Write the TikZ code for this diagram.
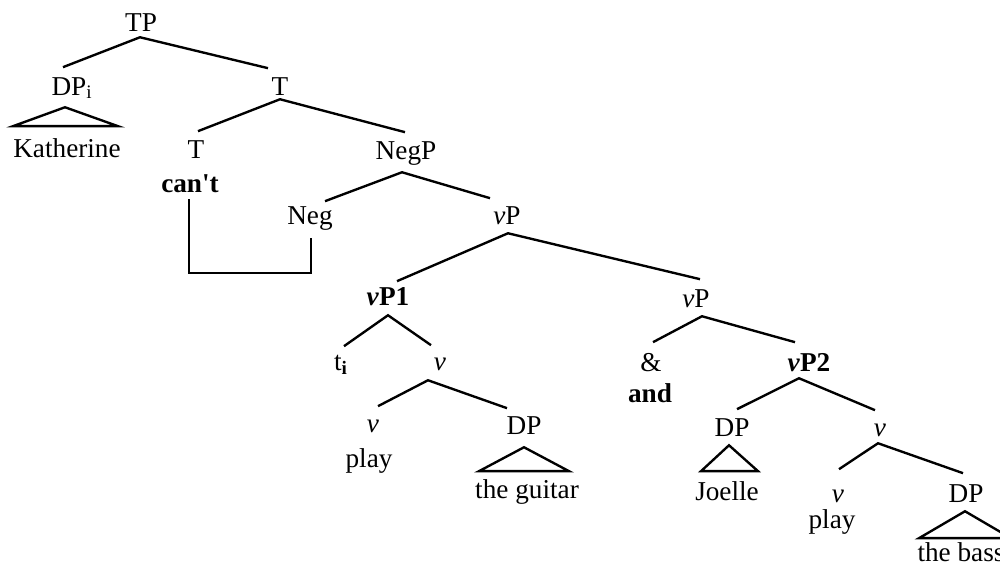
\documentclass[tikz,border=0pt]{standalone}
\usepackage{fontspec}
\setmainfont{Liberation Serif}
\usetikzlibrary{calc}
\tikzset{
  lbl/.style={anchor=base, inner xsep=0pt, inner ysep=4.5pt, text height=10pt, text depth=0pt,
              font=\fontsize{15.5pt}{18pt}\selectfont},
  br/.style={line width=1.35pt},
}
\begin{document}
\begin{tikzpicture}[x=0.02cm, y=-0.02cm]
\useasboundingbox (0,0) rectangle (1000,571);
% nodes (x = centre, y = baseline, in px)
\node[lbl] (TP)    at (141,32)  {TP};
\node[lbl] (DPi)   at (72,95)   {DP\textsubscript{i}};
\node[lbl] (T1)    at (280,95)  {T};
\node[lbl] (Kath)  at (67,157)  {Katherine};
\node[lbl] (T2)    at (196,158) {T};
\node[lbl] (cant)  at (190,192) {\textbf{can\textquotesingle t}};
\node[lbl] (NegP)  at (406,159) {NegP};
\node[lbl] (Neg)   at (310,224) {Neg};
\node[lbl] (vP0)   at (507,224) {\textit{v}P};
\node[lbl] (vP1)   at (388,305) {\textbf{\textit{v}P1}};
\node[lbl] (vPr)   at (696,307) {\textit{v}P};
\node[lbl] (ti)    at (341,370) {t\textsubscript{\textbf{i}}};
\node[lbl] (v1)    at (440,370) {\textit{v}};
\node[lbl] (v2)    at (373,432) {\textit{v}};
\node[lbl] (play1) at (369,467) {play};
\node[lbl] (DPg)   at (524,434) {DP};
\node[lbl] (guitar) at (527,498) {the guitar};
\node[lbl] (amp)   at (651,371) {\&};
\node[lbl] (and)   at (650,402) {\textbf{and}};
\node[lbl] (vP2)   at (809,371) {\textbf{\textit{v}P2}};
\node[lbl] (DPj)   at (732,436) {DP};
\node[lbl] (v3)    at (880,436) {\textit{v}};
\node[lbl] (Joelle) at (727,500) {Joelle};
\node[lbl] (v4)    at (838,502) {\textit{v}};
\node[lbl] (play2) at (832,528) {play};
\node[lbl] (DPb)   at (966,502) {DP};
\node[lbl] (bass)  at (961,561) {the bass};
% branches
\draw[br] ($(DPi.north)+(-9,-2)$) -- ($(TP.south)+(-1,-3)$) -- ($(T1.north)+(-12,-1)$);
\draw[br] ($(T2.north)+(2,-1)$) -- ($(T1.south)+(0,-4)$) -- ($(NegP.north)+(-1,-1)$);
\draw[br] ($(Neg.north)+(15,3)$) -- ($(NegP.south)+(-4,5)$) -- ($(vP0.north)+(-17,0)$);
\draw[br] ($(vP1.north)+(9,2)$) -- ($(vP0.south)+(1,1)$) -- ($(vPr.north)+(4,-2)$);
\draw[br] ($(ti.north)+(3,2)$) -- ($(vP1.south)+(0,2)$) -- ($(v1.north)+(-9,1)$);
\draw[br] ($(v2.north)+(5,0)$) -- ($(v1.south)+(-12,2)$) -- ($(DPg.north)+(-17,0)$);
\draw[br] ($(amp.north)+(2,-3)$) -- ($(vPr.south)+(6,1)$) -- ($(vP2.north)+(-14,-3)$);
\draw[br] ($(DPj.north)+(5,-1)$) -- ($(vP2.south)+(-10,-1)$) -- ($(v3.north)+(-5,0)$);
\draw[br] ($(v4.north)+(1,-7)$) -- ($(v3.south)+(-2,-1)$) -- ($(DPb.north)+(-3,-3)$);
% movement bracket
\draw[br] ($(cant.south)+(-1,-1)$) -- ++(0,74) -| ($(Neg.south)+(1,6)$);
% triangles
\draw[br] ($(DPi.south)+(-7,4)$) -- ($(Kath.north)+(-54,-5)$) -- ($(Kath.north)+(51,-5)$) -- cycle;
\draw[br] ($(DPg.south)+(0,5)$) -- ($(guitar.north)+(-48,-1)$) -- ($(guitar.north)+(42,-1)$) -- cycle;
\draw[br] ($(DPj.south)+(-3,1)$) -- ($(Joelle.north)+(-26,-3)$) -- ($(Joelle.north)+(31,-3)$) -- cycle;
\draw[br] ($(DPb.south)+(-1,1)$) -- ($(bass.north)+(-42,3)$) -- ($(bass.north)+(50,3)$) -- cycle;
\end{tikzpicture}
\end{document}
